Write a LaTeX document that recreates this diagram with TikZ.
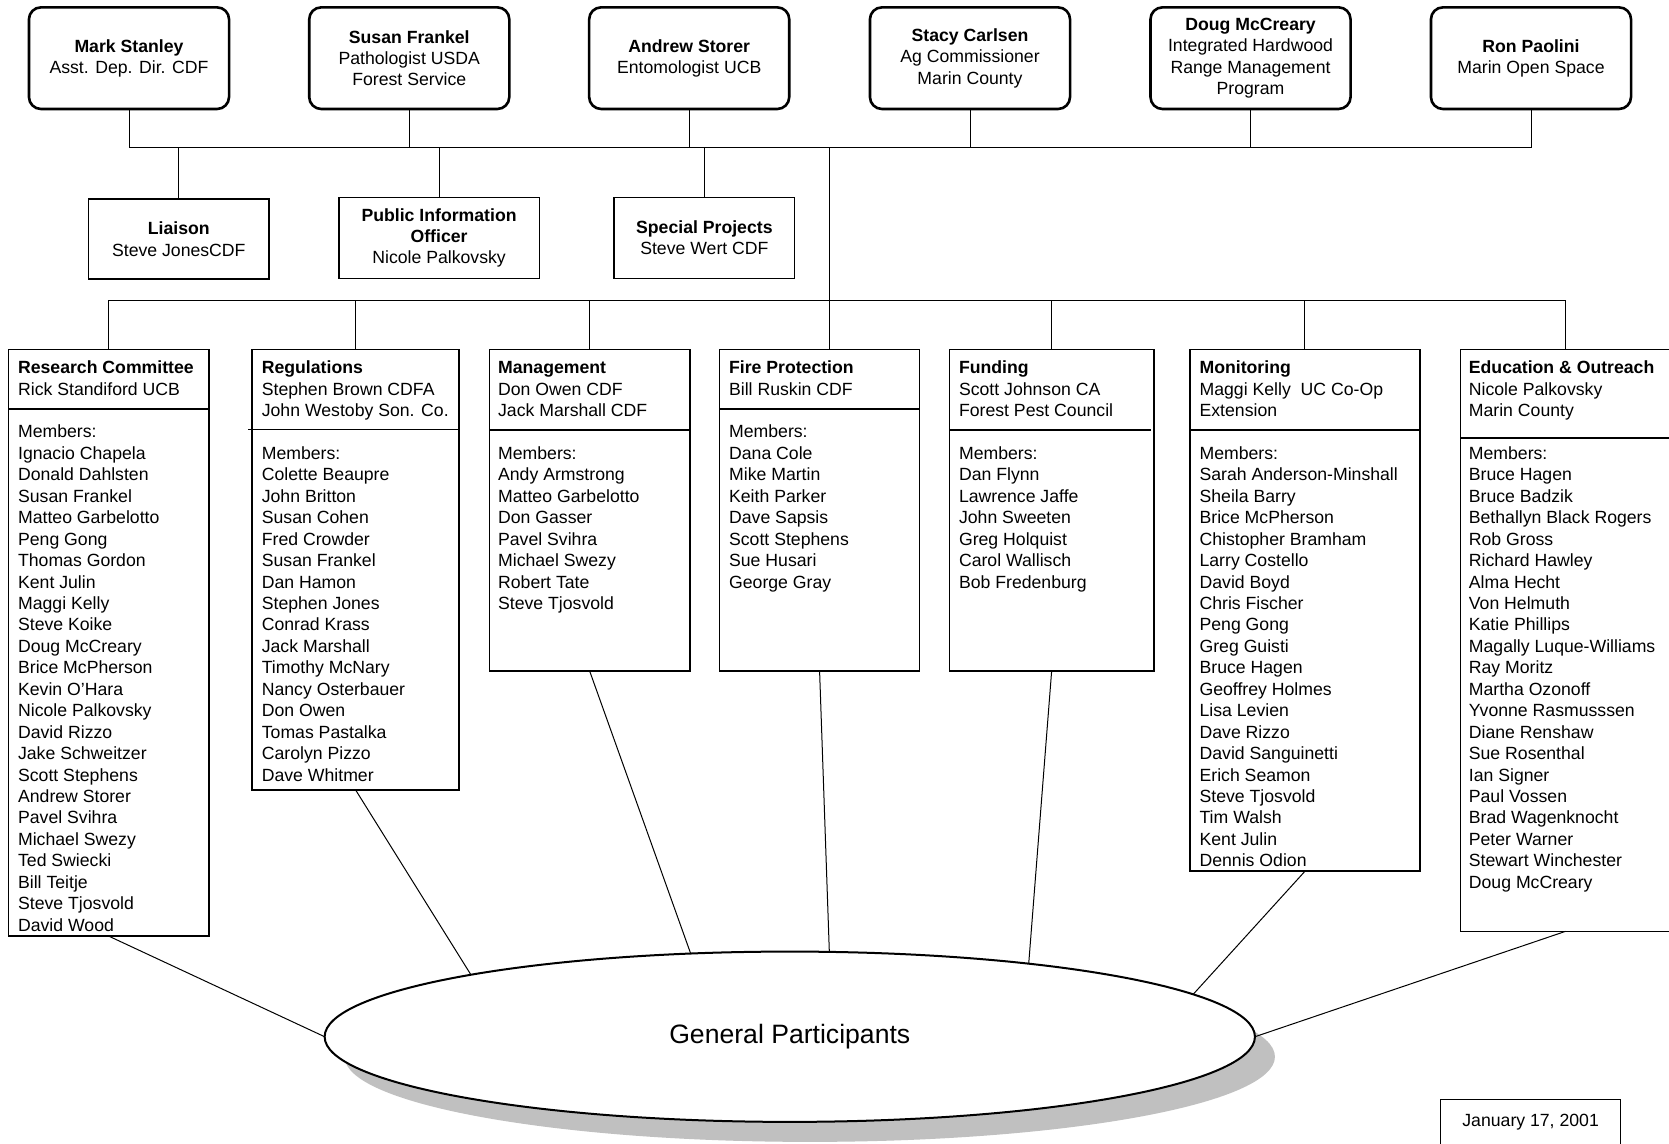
\documentclass[tikz,border=0pt]{standalone}
\usepackage{fontspec}
\setmainfont{Liberation Sans}
\usetikzlibrary{shapes.geometric,shadows}
\definecolor{shadowgray}{RGB}{192,192,192}
\newcommand{\px}[1]{#1*0.5322pt}
\begin{document}
\begin{tikzpicture}[x=0.5322pt,y=-0.5322pt,
  every node/.style={font=\fontsize{8.83pt}{10.72pt}\selectfont, inner sep=0pt, outer sep=0pt},
  topbox/.style={draw, line width=1.3pt, rounded corners=6pt, minimum width={\px{188}}, minimum height={\px{95.5}}, align=center},
  staffbox/.style={draw, line width=0.8pt, align=center},
  combox/.style={draw, line width=0.8pt, anchor=north west},
  txt/.style={align=left, anchor=north west},
  conn/.style={line width=0.5pt},
  divider/.style={line width=0.8pt},
]
\path[use as bounding box, fill=white] (0,0) rectangle (1568,1074);

% top row
\node[topbox] (mark) at (121.2,54.65) {\textbf{Mark Stanley}\\Asst. Dep. Dir. CDF};
\node[topbox] (susan) at (384.5,54.65) {\textbf{Susan Frankel}\\Pathologist USDA\\Forest Service};
\node[topbox] (andrew) at (647.5,54.65) {\textbf{Andrew Storer}\\Entomologist UCB};
\node[topbox] (stacy) at (911.3,54.65) {\textbf{Stacy Carlsen}\\Ag Commissioner\\Marin County};
\node[topbox] (doug) at (1174.85,54.65) {\textbf{Doug McCreary}\\Integrated Hardwood\\Range Management\\Program};
\node[topbox] (ron) at (1438.35,54.65) {\textbf{Ron Paolini}\\Marin Open Space};

% staff
\node[staffbox, minimum width={\px{170}}, minimum height={\px{75.4}}] (liaison) at (168,224.7) {\textbf{Liaison}\\Steve JonesCDF};
\node[staffbox, minimum width={\px{188.4}}, minimum height={\px{76}}] (pio) at (412.5,223.5) {\textbf{Public Information}\\\textbf{Officer}\\Nicole Palkovsky};
\node[staffbox, minimum width={\px{169.5}}, minimum height={\px{76}}] (special) at (661.75,223.5) {\textbf{Special Projects}\\Steve Wert CDF};

% committees
\node[combox, minimum width={\px{188.5}}, minimum height={\px{551}}] (research) at (8,328.5) {};
\node[combox, minimum width={\px{194}}, minimum height={\px{413.5}}] (regs) at (237,328.5) {};
\node[combox, minimum width={\px{188}}, minimum height={\px{302}}] (mgmt) at (460,328.5) {};
\node[combox, minimum width={\px{188}}, minimum height={\px{302}}] (fire) at (676,328.5) {};
\node[combox, minimum width={\px{192}}, minimum height={\px{302}}] (fund) at (892,328.5) {};
\node[combox, minimum width={\px{216}}, minimum height={\px{490}}] (mon) at (1118,328.5) {};
\node[combox, minimum width={\px{197.5}}, minimum height={\px{546.5}}] (edu) at (1372,328.5) {};

\draw[divider] (8,384.5) -- (196.5,384.5);
\draw[divider] (233,403.5) -- (431,403.5);
\draw[divider] (460,404) -- (648,404);
\draw[divider] (676,384.5) -- (864,384.5);
\draw[divider] (892,404) -- (1081,404);
\draw[divider] (1118,404) -- (1334,404);
\draw[divider] (1372,411.6) -- (1569.5,411.6);

\node[txt] (researchT) at (17,339) {\textbf{Research Committee}\\Rick Standiford UCB\\[10.72pt]Members:\\Ignacio Chapela\\Donald Dahlsten\\Susan Frankel\\Matteo Garbelotto\\Peng Gong\\Thomas Gordon\\Kent Julin\\Maggi Kelly\\Steve Koike\\Doug McCreary\\Brice McPherson\\Kevin O'Hara\\Nicole Palkovsky\\David Rizzo\\Jake Schweitzer\\Scott Stephens\\Andrew Storer\\Pavel Svihra\\Michael Swezy\\Ted Swiecki\\Bill Teitje\\Steve Tjosvold\\David Wood};
\node[txt] (regsT) at (246,339) {\textbf{Regulations}\\Stephen Brown CDFA\\John Westoby Son. Co.\\[10.72pt]Members:\\Colette Beaupre\\John Britton\\Susan Cohen\\Fred Crowder\\Susan Frankel\\Dan Hamon\\Stephen Jones\\Conrad Krass\\Jack Marshall\\Timothy McNary\\Nancy Osterbauer\\Don Owen\\Tomas Pastalka\\Carolyn Pizzo\\Dave Whitmer};
\node[txt] (mgmtT) at (468,339) {\textbf{Management\vphantom{hl}}\\Don Owen CDF\\Jack Marshall CDF\\[10.72pt]Members:\\Andy Armstrong\\Matteo Garbelotto\\Don Gasser\\Pavel Svihra\\Michael Swezy\\Robert Tate\\Steve Tjosvold};
\node[txt] (fireT) at (685,339) {\textbf{Fire Protection}\\Bill Ruskin CDF\\[10.72pt]Members:\\Dana Cole\\Mike Martin\\Keith Parker\\Dave Sapsis\\Scott Stephens\\Sue Husari\\George Gray};
\node[txt] (fundT) at (901,339) {\textbf{Funding}\\Scott Johnson CA\\Forest Pest Council\\[10.72pt]Members:\\Dan Flynn\\Lawrence Jaffe\\John Sweeten\\Greg Holquist\\Carol Wallisch\\Bob Fredenburg};
\node[txt] (monT) at (1127,339) {\textbf{Monitoring\vphantom{hl}}\\Maggi Kelly\ \ UC Co-Op\\Extension\\[10.72pt]Members:\\Sarah Anderson-Minshall\\Sheila Barry\\Brice McPherson\\Chistopher Bramham\\Larry Costello\\David Boyd\\Chris Fischer\\Peng Gong\\Greg Guisti\\Bruce Hagen\\Geoffrey Holmes\\Lisa Levien\\Dave Rizzo\\David Sanguinetti\\Erich Seamon\\Steve Tjosvold\\Tim Walsh\\Kent Julin\\Dennis Odion};
\node[txt] (eduT) at (1380,339) {\textbf{Education \& Outreach}\\Nicole Palkovsky\\Marin County\\[10.72pt]Members:\\Bruce Hagen\\Bruce Badzik\\Bethallyn Black Rogers\\Rob Gross\\Richard Hawley\\Alma Hecht\\Von Helmuth\\Katie Phillips\\Magally Luque-Williams\\Ray Moritz\\Martha Ozonoff\\Yvonne Rasmusssen\\Diane Renshaw\\Sue Rosenthal\\Ian Signer\\Paul Vossen\\Brad Wagenknocht\\Peter Warner\\Stewart Winchester\\Doug McCreary};

% general participants
\node[ellipse, draw, line width=1pt, fill=white, minimum width={\px{874}}, minimum height={\px{160}},
      font=\fontsize{13.3pt}{16pt}\selectfont,
      drop shadow={opacity=1, fill=shadowgray, shadow xshift=10pt, shadow yshift=-10pt}] (gp) at (742,974) {General Participants};

% date
\node[draw, line width=0.6pt, anchor=north, minimum width={\px{169}}, minimum height={\px{60}}] (datebox) at (1438,1033) {};
\node (date) at (1438,1054) {January 17, 2001};

% connectors
\coordinate (bus1) at (121.2,139);
\coordinate (bus2) at (102.25,282);
\coordinate (trunk) at (779,139);
\draw[conn] (mark.south) -- (mark.south |- bus1) -| (ron.south);
\foreach \n in {susan,andrew,stacy,doug} \draw[conn] (\n.south) -- (\n.south |- bus1);
\foreach \n in {liaison,pio,special} \draw[conn] (\n.north) -- (\n.north |- bus1);
\draw[conn] (trunk) -- (trunk |- fire.north);
\draw[conn] (research.north) -- (research.north |- bus2) -| (edu.north);
\foreach \n in {regs,mgmt,fund,mon} \draw[conn] (\n.north) -- (\n.north |- bus2);

\draw[conn] (research.south) -- (gp.180);
\draw[conn] (regs.south) -- (gp.169);
\draw[conn] (mgmt.south) -- (gp.140);
\draw[conn] (fire.south) -- (gp.65);
\draw[conn] (fund.south) -- (gp.17);
\draw[conn] (mon.south) -- (gp.6);
\draw[conn] (edu.south) -- (gp.0);
\end{tikzpicture}
\end{document}
